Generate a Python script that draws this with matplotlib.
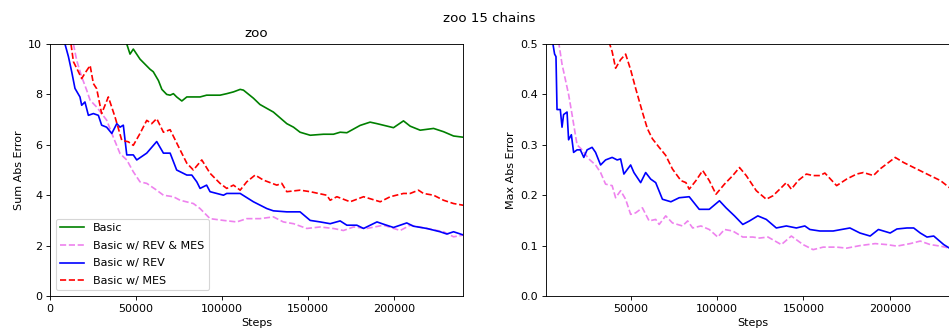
import matplotlib
matplotlib.use("Agg")
import matplotlib.pyplot as plt

# ---- left panel: Sum Abs Error ----
basic_steps = [44600, 46500, 48400, 52300, 58100, 60000, 63000, 65000, 67800, 69800, 71700, 73600,
               76600, 79500, 87200, 91000, 98800, 102700, 106600, 110500, 112400, 118200, 122000,
               129800, 137600, 141500, 145300, 151200, 158900, 164700, 168600, 172500, 180200,
               186000, 190000, 199600, 205400, 209300, 215100, 222900, 228700, 234500, 240300]
basic_sum = [10.0, 9.6, 9.8, 9.4, 9.0, 8.9, 8.55, 8.2, 8.0, 7.97, 8.03, 7.9,
             7.74, 7.9, 7.9, 7.97, 7.97, 8.03, 8.1, 8.2, 8.17, 7.85, 7.6,
             7.3, 6.84, 6.7, 6.5, 6.38, 6.42, 6.42, 6.5, 6.48, 6.77,
             6.9, 6.84, 6.68, 6.95, 6.74, 6.58, 6.65, 6.52, 6.35, 6.3]

mes_steps = [12200, 13600, 16500, 18400, 20300, 23300, 25200, 27100, 30000, 33900, 37800, 41700,
             45500, 48400, 52300, 56200, 59100, 62000, 65900, 69800, 75600, 79500, 83300, 88200,
             93000, 98800, 102700, 106600, 110500, 114300, 119200, 124000, 131800, 134700, 137600,
             145300, 151200, 160800, 162800, 166700, 174400, 182200, 191900, 197700, 205400,
             209300, 214100, 217000, 222900, 228700, 234500, 240300]
mes_sum = [10.0, 9.3, 8.9, 8.63, 8.84, 9.15, 8.43, 8.23, 7.24, 7.9, 7.1, 6.18,
           6.12, 5.98, 6.45, 6.97, 6.84, 7.04, 6.5, 6.6, 5.8, 5.27, 5.0, 5.4,
           4.87, 4.47, 4.27, 4.4, 4.2, 4.53, 4.8, 4.6, 4.4, 4.47, 4.14,
           4.2, 4.14, 4.0, 3.8, 3.94, 3.74, 3.94, 3.74, 3.94, 4.07,
           4.07, 4.2, 4.07, 4.0, 3.8, 3.67, 3.6]

rev_steps = [8700, 10700, 12600, 14500, 17400, 18400, 20300, 22300, 25200, 28100, 30000, 32900,
             35900, 38800, 40700, 42600, 44600, 48400, 50400, 56200, 62000, 65900, 69800, 73600,
             79500, 82400, 85300, 87200, 91000, 93000, 100800, 102700, 110500, 118200, 126000,
             129800, 137600, 145300, 151200, 157000, 162800, 168600, 172500, 178300, 182200,
             190000, 193800, 199600, 207300, 211200, 219000, 226700, 230600, 234500, 240300]
rev_sum = [10.0, 9.5, 8.9, 8.24, 7.9, 7.57, 7.7, 7.17, 7.24, 7.17, 6.78, 6.7,
           6.45, 6.84, 6.7, 6.78, 5.6, 5.6, 5.4, 5.67, 6.13, 5.67, 5.67, 5.0,
           4.8, 4.8, 4.53, 4.27, 4.4, 4.14, 4.0, 4.07, 4.07, 3.74, 3.47,
           3.38, 3.34, 3.34, 3.0, 2.94, 2.87, 2.98, 2.81, 2.81, 2.68,
           2.94, 2.85, 2.72, 2.9, 2.77, 2.68, 2.55, 2.46, 2.55, 2.42]

revmes_steps = [13600, 15500, 18400, 21300, 23300, 27100, 32900, 36800, 40700, 44600, 48400, 52300,
                56200, 62000, 65900, 71700, 75600, 83300, 87200, 93000, 100800, 108500, 114300,
                122000, 129800, 135600, 141500, 149200, 157000, 164700, 170500, 176400, 184100,
                193800, 203500, 209300, 219000, 228700, 234500, 240300]
revmes_sum = [10.0, 9.35, 8.7, 8.17, 7.77, 7.5, 6.98, 6.3, 5.65, 5.4, 4.93, 4.53,
              4.47, 4.2, 4.0, 3.94, 3.8, 3.67, 3.47, 3.07, 3.0, 2.94, 3.07,
              3.07, 3.14, 2.94, 2.87, 2.68, 2.74, 2.68, 2.6, 2.74, 2.68,
              2.81, 2.6, 2.81, 2.68, 2.55, 2.35, 2.42]

# ---- right panel: Max Abs Error ----
rev_max_steps = [4800, 6000, 6800, 7400, 9300, 10300, 11200, 13200, 14100, 15700, 17000, 19000,
                 20900, 22900, 24800, 27700, 29700, 32600, 35500, 39300, 42200, 44200, 46100,
                 50000, 51900, 55800, 58700, 61600, 64500, 68400, 73300, 78100, 83900, 89700,
                 95500, 101400, 105200, 110100, 114900, 118800, 123600, 128500, 134300, 140100,
                 145900, 150800, 153700, 159500, 167200, 176900, 182700, 188600, 193400, 200200,
                 204100, 209900, 213800, 217600, 221500, 225400, 231200, 234500, 240000]
rev_max = [0.505, 0.48, 0.475, 0.37, 0.37, 0.335, 0.36, 0.365, 0.31, 0.32, 0.285, 0.29,
           0.29, 0.275, 0.29, 0.295, 0.285, 0.26, 0.27, 0.275, 0.27, 0.272, 0.242,
           0.26, 0.245, 0.225, 0.245, 0.232, 0.225, 0.192, 0.187, 0.195, 0.197, 0.172,
           0.172, 0.189, 0.175, 0.159, 0.142, 0.149, 0.159, 0.152, 0.135, 0.139,
           0.135, 0.139, 0.132, 0.129, 0.129, 0.135, 0.125, 0.119, 0.132, 0.125,
           0.133, 0.135, 0.135, 0.125, 0.117, 0.119, 0.102, 0.095, 0.088]

revmes_max_steps = [8300, 10300, 12200, 14100, 16100, 19000, 21900, 25800, 29700, 32600, 35500,
                    39300, 41300, 44200, 47100, 50000, 52900, 56800, 60700, 64500, 66500, 70300,
                    74200, 80000, 83000, 85900, 90700, 95500, 100400, 104300, 109100, 114900,
                    120700, 124600, 129500, 137200, 143000, 149800, 155600, 161400, 169200,
                    175000, 182700, 191500, 198300, 204100, 211800, 217600, 223400, 229300,
                    234500, 240000]
revmes_max = [0.505, 0.46, 0.43, 0.4, 0.36, 0.3, 0.29, 0.272, 0.26, 0.245, 0.222,
              0.219, 0.195, 0.209, 0.192, 0.162, 0.165, 0.175, 0.149, 0.152, 0.142, 0.159,
              0.145, 0.139, 0.149, 0.135, 0.139, 0.132, 0.117, 0.132, 0.129, 0.117,
              0.117, 0.115, 0.117, 0.102, 0.119, 0.102, 0.092, 0.097, 0.097,
              0.095, 0.1, 0.104, 0.102, 0.099, 0.104, 0.109, 0.102, 0.099,
              0.095, 0.093]

mes_max_steps = [37400, 39300, 41300, 44200, 47100, 50000, 52900, 56800, 59700, 62600, 66500,
                 70300, 74200, 79100, 82000, 83900, 87800, 91700, 95500, 99400, 104300, 109100,
                 113000, 116900, 122700, 128500, 132400, 137200, 140100, 143000, 146900, 151700,
                 155600, 159500, 162400, 169200, 175000, 180800, 184700, 190500, 194300, 203100,
                 207900, 213800, 221500, 229300, 234500, 240000]
mes_max = [0.505, 0.485, 0.452, 0.469, 0.48, 0.449, 0.412, 0.365, 0.332, 0.312, 0.295,
           0.279, 0.252, 0.229, 0.225, 0.212, 0.229, 0.249, 0.229, 0.202, 0.222, 0.239,
           0.255, 0.239, 0.209, 0.192, 0.199, 0.215, 0.225, 0.212, 0.229, 0.242,
           0.239, 0.239, 0.244, 0.219, 0.232, 0.242, 0.245, 0.239, 0.252, 0.275,
           0.265, 0.255, 0.242, 0.229, 0.215, 0.205]

fig = plt.figure(figsize=(949 / 80, 331 / 80), dpi=80)
ax1 = fig.add_axes([0.0527, 0.1057, 0.4352, 0.7613])
ax2 = fig.add_axes([0.5753, 0.1057, 0.4352, 0.7613])

ax1.plot(basic_steps, basic_sum, color="green", label="Basic")
ax1.plot(revmes_steps, revmes_sum, color="violet", linestyle="--", label="Basic w/ REV & MES")
ax1.plot(rev_steps, rev_sum, color="blue", label="Basic w/ REV")
ax1.plot(mes_steps, mes_sum, color="red", linestyle="--", label="Basic w/ MES")
ax1.set_xlim(0, 240000)
ax1.set_ylim(0, 10)
ax1.set_title("zoo")
ax1.set_xlabel("Steps")
ax1.set_ylabel("Sum Abs Error")
ax1.legend(loc="lower left", labelspacing=0.68, handlelength=2.2)

ax2.plot(revmes_max_steps, revmes_max, color="violet", linestyle="--")
ax2.plot(rev_max_steps, rev_max, color="blue")
ax2.plot(mes_max_steps, mes_max, color="red", linestyle="--")
ax2.set_xlim(1000, 240000)
ax2.set_ylim(0, 0.5)
ax2.set_xlabel("Steps")
ax2.set_ylabel("Max Abs Error")

fig.suptitle("zoo 15 chains", x=0.515, y=0.965)
fig.savefig("out.png", dpi=80)
